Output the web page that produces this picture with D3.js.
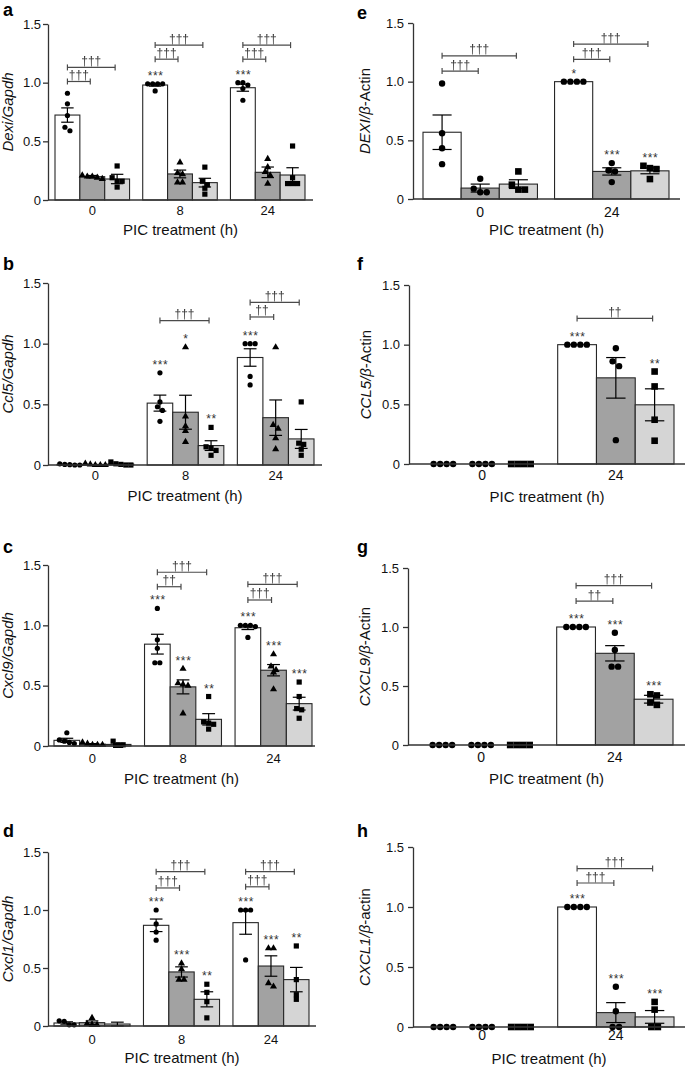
<!DOCTYPE html>
<html><head><meta charset="utf-8">
<script src="https://cdn.jsdelivr.net/npm/d3@7"></script>
<style>body{margin:0;background:#fff}svg{display:block}text.dag{filter:grayscale(1)}</style>
</head><body>
<svg id="chart" width="685" height="1067"></svg>
<script>
// ---------- DATA ----------
const groupsMouse = ["0", "8", "24"];
const groupsHuman = ["0", "24"];

// Panel a: Dexi/Gapdh
const meanA = [[0.724, 0.199, 0.179], [0.98, 0.222, 0.148], [0.957, 0.236, 0.213]];
const semA = [[0.061, 0.01, 0.04], [0.01, 0.033, 0.037], [0.03, 0.045, 0.062]];
const dotsA = [
  [[0.91, 0.82, 0.72, 0.62, 0.59], [0.21, 0.20, 0.20, 0.19, 0.18], [0.29, 0.19, 0.16, 0.16, 0.11]],
  [[0.99, 0.99, 0.99, 0.99, 0.93], [0.32, 0.23, 0.22, 0.15, 0.15], [0.28, 0.16, 0.13, 0.10, 0.05]],
  [[1.0, 1.0, 0.98, 0.95, 0.85], [0.35, 0.28, 0.24, 0.21, 0.14], [0.46, 0.19, 0.14, 0.14, 0.14]]
];
const bracketsA = [
  {g: 0, to: 1, v: 1.01, label: "†††"}, {g: 0, to: 2, v: 1.13, label: "†††"},
  {g: 1, to: 1, v: 1.20, label: "†††"}, {g: 1, to: 2, v: 1.32, label: "†††"},
  {g: 2, to: 1, v: 1.20, label: "†††"}, {g: 2, to: 2, v: 1.32, label: "†††"}
];
const starsA = [{g: 1, b: 0, label: "***"}, {g: 2, b: 0, label: "***"}];

// Panel b: Ccl5/Gapdh
const meanB = [[0.005, 0.005, 0.008], [0.51, 0.435, 0.16], [0.886, 0.39, 0.215]];
const semB = [[0.002, 0.002, 0.004], [0.066, 0.14, 0.04], [0.072, 0.146, 0.078]];
const dotsB = [
  [[0.01, 0.005, 0, 0, 0.003], [0.012, 0.005, 0, 0, 0], [0.025, 0.01, 0.005, 0, 0]],
  [[0.76, 0.52, 0.48, 0.45, 0.36], [0.97, 0.40, 0.32, 0.28, 0.19], [0.31, 0.15, 0.14, 0.12, 0.08]],
  [[1.0, 1.0, 1.0, 0.73, 0.66], [0.97, 0.33, 0.30, 0.22, 0.13], [0.52, 0.18, 0.17, 0.13, 0.08]]
];
const bracketsB = [
  {g: 1, to: 2, v: 1.19, label: "†††"},
  {g: 2, to: 1, v: 1.22, label: "††"}, {g: 2, to: 2, v: 1.34, label: "†††"}
];
const starsB = [{g: 1, b: 0, label: "***"}, {g: 1, b: 1, label: "*"}, {g: 1, b: 2, label: "**"}, {g: 2, b: 0, label: "***"}];

// Panel c: Cxcl9/Gapdh
const meanC = [[0.047, 0.015, 0.013], [0.844, 0.49, 0.221], [0.98, 0.628, 0.351]];
const semC = [[0.017, 0.005, 0.004], [0.082, 0.058, 0.047], [0.015, 0.047, 0.053]];
const dotsC = [
  [[0.11, 0.05, 0.04, 0.03, 0.02], [0.03, 0.02, 0.01, 0.01, 0.01], [0.04, 0.01, 0.01, 0.005, 0.005]],
  [[1.14, 0.88, 0.81, 0.69, 0.69], [0.64, 0.52, 0.51, 0.50, 0.27], [0.41, 0.20, 0.19, 0.18, 0.14]],
  [[1.0, 1.0, 1.0, 0.99, 0.90], [0.76, 0.66, 0.63, 0.61, 0.47], [0.53, 0.41, 0.31, 0.30, 0.23]]
];
const bracketsC = [
  {g: 1, to: 1, v: 1.32, label: "††"}, {g: 1, to: 2, v: 1.44, label: "†††"},
  {g: 2, to: 1, v: 1.21, label: "†††"}, {g: 2, to: 2, v: 1.34, label: "†††"}
];
const starsC = [
  {g: 1, b: 0, label: "***"}, {g: 1, b: 1, label: "***"}, {g: 1, b: 2, label: "**"},
  {g: 2, b: 0, label: "***"}, {g: 2, b: 1, label: "***"}, {g: 2, b: 2, label: "***"}
];

// Panel d: Cxcl1/Gapdh
const meanD = [[0.026, 0.029, 0.017], [0.868, 0.466, 0.23], [0.891, 0.517, 0.40]];
const semD = [[0.01, 0.015, 0.016], [0.054, 0.044, 0.065], [0.10, 0.088, 0.105]];
const dotsD = [
  [[0.045, 0.04, 0.01, 0.01], [0.07, 0.02, 0.01, 0.01], []],
  [[1.0, 0.88, 0.81, 0.74], [0.54, 0.49, 0.40, 0.40], [0.36, 0.29, 0.21, 0.07]],
  [[1.0, 1.0, 1.0, 0.57], [0.67, 0.67, 0.37, 0.34], [0.69, 0.40, 0.27, 0.23]]
];
const bracketsD = [
  {g: 1, to: 1, v: 1.19, label: "†††"}, {g: 1, to: 2, v: 1.33, label: "†††"},
  {g: 2, to: 1, v: 1.20, label: "†††"}, {g: 2, to: 2, v: 1.33, label: "†††"}
];
const starsD = [
  {g: 1, b: 0, label: "***"}, {g: 1, b: 1, label: "***"}, {g: 1, b: 2, label: "**"},
  {g: 2, b: 0, label: "***"}, {g: 2, b: 1, label: "***"}, {g: 2, b: 2, label: "**"}
];

// Panel e: DEXI/β-Actin
const meanE = [[0.569, 0.093, 0.127], [1.0, 0.235, 0.24]];
const semE = [[0.147, 0.034, 0.037], [0, 0.031, 0.025]];
const dotsE = [
  [[0.985, 0.56, 0.433, 0.297], [0.173, 0.088, 0.057, 0.057], [0.235, 0.122, 0.08, 0.08]],
  [[1, 1, 1, 1], [0.306, 0.243, 0.235, 0.144], [0.283, 0.263, 0.255, 0.17]]
];
const bracketsE = [
  {g: 0, to: 1, v: 1.09, label: "†††"}, {g: 0, to: 2, v: 1.22, label: "†††"},
  {g: 1, to: 1, v: 1.19, label: "†††"}, {g: 1, to: 2, v: 1.32, label: "†††"}
];
const starsE = [{g: 1, b: 0, label: "*"}, {g: 1, b: 1, label: "***"}, {g: 1, b: 2, label: "***"}];

// Panel f: CCL5/β-Actin
const meanF = [[0, 0, 0], [1.0, 0.722, 0.496]];
const semF = [[0, 0, 0], [0, 0.17, 0.134]];
const dotsF = [
  [[0, 0, 0, 0], [0, 0, 0, 0], [0, 0, 0, 0]],
  [[1, 1, 1, 1], [0.97, 0.86, 0.82, 0.20], [0.775, 0.65, 0.371, 0.195]]
];
const bracketsF = [{g: 1, to: 2, v: 1.22, label: "††"}];
const starsF = [{g: 1, b: 0, label: "***"}, {g: 1, b: 2, label: "**"}];

// Panel g: CXCL9/β-Actin
const meanG = [[0, 0, 0], [1.0, 0.777, 0.388]];
const semG = [[0, 0, 0], [0, 0.065, 0.033]];
const dotsG = [
  [[0, 0, 0, 0], [0, 0, 0, 0], [0, 0, 0, 0]],
  [[1, 1, 1, 1], [0.951, 0.805, 0.664, 0.664], [0.43, 0.42, 0.36, 0.34]]
];
const bracketsG = [{g: 1, to: 1, v: 1.22, label: "††"}, {g: 1, to: 2, v: 1.35, label: "†††"}];
const starsG = [{g: 1, b: 0, label: "***"}, {g: 1, b: 1, label: "***"}, {g: 1, b: 2, label: "***"}];

// Panel h: CXCL1/β-actin
const meanH = [[0, 0, 0], [1.0, 0.12, 0.084]];
const semH = [[0, 0, 0], [0, 0.083, 0.053]];
const dotsH = [
  [[0, 0, 0, 0], [0, 0, 0, 0], [0, 0, 0, 0]],
  [[1, 1, 1, 1], [0.335, 0.131, 0, 0], [0.209, 0.145, 0, 0]]
];
const bracketsH = [{g: 1, to: 1, v: 1.20, label: "†††"}, {g: 1, to: 2, v: 1.32, label: "†††"}];
const starsH = [{g: 1, b: 0, label: "***"}, {g: 1, b: 1, label: "***"}, {g: 1, b: 2, label: "***"}];

const yTicks = [0, 0.5, 1.0, 1.5];
const xTitle = "PIC treatment (h)";

// ---------- LAYOUT ----------
const FONT = "'Liberation Sans', Arial, Helvetica, sans-serif";
const fills = ["#ffffff", "#a2a2a2", "#d5d5d5"];

const panels = [
  {id: "a", groups: groupsMouse, mean: meanA, sem: semA, dots: dotsA, brackets: bracketsA, stars: starsA,
   title: [["Dexi/Gapdh", true]], L: {lx: 3, ly: 16, ax: [48, 313], band: [55, 305], y: [200, 24], ytx: 13, tickDy: 15, titleDy: 35, right: false}},
  {id: "b", groups: groupsMouse, mean: meanB, sem: semB, dots: dotsB, brackets: bracketsB, stars: starsB,
   title: [["Ccl5/Gapdh", true]], L: {lx: 3, ly: 270, ax: [48, 322], band: [57, 314], y: [465, 283], ytx: 13, tickDy: 15, titleDy: 35.5, right: false}},
  {id: "c", groups: groupsMouse, mean: meanC, sem: semC, dots: dotsC, brackets: bracketsC, stars: starsC,
   title: [["Cxcl9/Gapdh", true]], L: {lx: 3, ly: 553, ax: [48, 315], band: [54, 312], y: [746, 565], ytx: 13, tickDy: 17, titleDy: 37.5, right: false}},
  {id: "d", groups: groupsMouse, mean: meanD, sem: semD, dots: dotsD, brackets: bracketsD, stars: starsD,
   title: [["Cxcl1/Gapdh", true]], L: {lx: 3, ly: 837, ax: [48, 316], band: [54, 309], y: [1026, 852], ytx: 13, tickDy: 18, titleDy: 37, right: false}},
  {id: "e", groups: groupsHuman, mean: meanE, sem: semE, dots: dotsE, brackets: bracketsE, stars: starsE,
   title: [["DEXI/β", true], ["-Actin", false]], L: {lx: 357, ly: 19, ax: [413, 680], band: [423, 669], y: [199, 23], ytx: 370, tickDy: 17.5, titleDy: 36, right: true}},
  {id: "f", groups: groupsHuman, mean: meanF, sem: semF, dots: dotsF, brackets: bracketsF, stars: starsF,
   title: [["CCL5/β", true], ["-Actin", false]], L: {lx: 357, ly: 270, ax: [409, 685], band: [424, 674], y: [464, 285], ytx: 371, tickDy: 16, titleDy: 38, right: true}},
  {id: "g", groups: groupsHuman, mean: meanG, sem: semG, dots: dotsG, brackets: bracketsG, stars: starsG,
   title: [["CXCL9/β", true], ["-Actin", false]], L: {lx: 357, ly: 553, ax: [408, 685], band: [423, 673], y: [745, 568], ytx: 370, tickDy: 16.5, titleDy: 38.5, right: true}},
  {id: "h", groups: groupsHuman, mean: meanH, sem: semH, dots: dotsH, brackets: bracketsH, stars: starsH,
   title: [["CXCL1/β", true], ["-actin", false]], L: {lx: 357, ly: 837, ax: [413, 685], band: [424, 674], y: [1027, 847], ytx: 370, tickDy: 13, titleDy: 36.5, right: true}}
];

const svg = d3.select("#chart").style("font-family", FONT);

function swarm(vals, y, thr, sp) {
  const sorted = vals.map(v => ({v})).sort((a, b) => b.v - a.v);
  const clusters = [];
  sorted.forEach(d => {
    const last = clusters[clusters.length - 1];
    if (last && Math.abs(y(last[0].v) - y(d.v)) < thr) last.push(d); else clusters.push([d]);
  });
  const out = [];
  clusters.forEach(c => c.forEach((d, i) => out.push({v: d.v, dx: (i - (c.length - 1) / 2) * sp})));
  return out;
}

panels.forEach(p => {
  const L = p.L;
  const g = svg.append("g");
  const y = d3.scaleLinear().domain([0, 1.5]).range(L.y);
  const x0 = d3.scaleBand().domain(p.groups).range(L.band)
    .paddingInner(p.groups.length === 3 ? 0.15 : 0.13).paddingOuter(0);
  const x1 = d3.scaleBand().domain([0, 1, 2]).range([0, x0.bandwidth()]);
  const bw = x1.bandwidth();
  const shapes = L.right ? ["circle", "circle", "square"] : ["circle", "triangle", "square"];
  const r = L.right ? 3.2 : 2.6;
  const sp = L.right ? 6.5 : 5;
  const sq = L.right ? 6.6 : 5.2;
  const triSize = L.right ? 34 : 22;
  const cx = (gi, bi) => x0(p.groups[gi]) + x1(bi) + bw / 2;

  // bars
  p.groups.forEach((gn, gi) => {
    [0, 1, 2].forEach(bi => {
      const m = p.mean[gi][bi];
      g.append("rect")
        .attr("x", x0(gn) + x1(bi)).attr("y", y(m))
        .attr("width", bw).attr("height", y(0) - y(m))
        .attr("fill", fills[bi]).attr("stroke", "#262626").attr("stroke-width", 1.1);
    });
  });

  // dots
  p.groups.forEach((gn, gi) => {
    [0, 1, 2].forEach(bi => {
      const pts = swarm(p.dots[gi][bi], y, 2 * r * 0.8, sp);
      const c = cx(gi, bi);
      pts.forEach(d => {
        const px = c + d.dx, py = y(d.v);
        if (shapes[bi] === "circle") {
          g.append("circle").attr("cx", px).attr("cy", py).attr("r", r).attr("fill", "#000");
        } else if (shapes[bi] === "square") {
          g.append("rect").attr("x", px - sq / 2).attr("y", py - sq / 2).attr("width", sq).attr("height", sq).attr("fill", "#000");
        } else {
          g.append("path").attr("d", d3.symbol(d3.symbolTriangle, triSize)())
            .attr("transform", `translate(${px},${py})`).attr("fill", "#000");
        }
      });
    });
  });

  // error bars
  p.groups.forEach((gn, gi) => {
    [0, 1, 2].forEach(bi => {
      const m = p.mean[gi][bi], s = p.sem[gi][bi];
      if (s <= 0.004) return;
      const c = cx(gi, bi), cw = bw * 0.25;
      const lo = Math.max(0, m - s), hi = m + s;
      g.append("line").attr("x1", c).attr("x2", c).attr("y1", y(lo)).attr("y2", y(hi))
        .attr("stroke", "#000").attr("stroke-width", 1.2);
      [lo, hi].forEach(v => g.append("line").attr("x1", c - cw).attr("x2", c + cw)
        .attr("y1", y(v)).attr("y2", y(v)).attr("stroke", "#000").attr("stroke-width", 1.2));
    });
  });

  // stars
  p.stars.forEach(st => {
    const m = p.mean[st.g][st.b], s = p.sem[st.g][st.b];
    const top = Math.max(m + s, d3.max(p.dots[st.g][st.b]) || 0);
    g.append("text").attr("x", cx(st.g, st.b) + 0.5).attr("y", y(top) - 4)
      .attr("text-anchor", "middle").attr("font-size", 12).attr("letter-spacing", 0.6)
      .attr("fill", "#333").text(st.label);
  });

  // brackets
  p.brackets.forEach(br => {
    const xa = cx(br.g, 0), xb = cx(br.g, br.to) - 2, yy = y(br.v);
    g.append("line").attr("x1", xa).attr("x2", xb).attr("y1", yy).attr("y2", yy)
      .attr("stroke", "#4a4a4a").attr("stroke-width", 1.2);
    [xa, xb].forEach(xx => g.append("line").attr("x1", xx).attr("x2", xx)
      .attr("y1", yy - 3).attr("y2", yy + 3).attr("stroke", "#4a4a4a").attr("stroke-width", 1.2));
    g.append("text").attr("class", "dag")
      .attr("x", (xa + xb) / 2).attr("y", yy - 2.5)
      .attr("text-anchor", "middle").attr("font-size", 12).attr("fill", "#3a3a3a")
      .text(br.label);
  });

  // y axis
  const yAxis = d3.axisLeft(y).tickValues(yTicks).tickSize(5).tickSizeOuter(0)
    .tickPadding(L.right ? 4 : 2)
    .tickFormat(d => d === 0 ? "0" : d3.format(".1f")(d));
  const ya = g.append("g").attr("transform", `translate(${L.ax[0]},0)`).call(yAxis);
  ya.select(".domain").attr("stroke", "#333").attr("stroke-width", 1.3);
  ya.selectAll(".tick line").attr("stroke", "#333").attr("stroke-width", 1.3);
  ya.selectAll(".tick text").attr("font-size", 13).attr("font-family", FONT).attr("fill", "#111");

  // x axis line
  g.append("line").attr("x1", L.ax[0]).attr("x2", L.ax[1]).attr("y1", y(0)).attr("y2", y(0))
    .attr("stroke", "#333").attr("stroke-width", 1.3);
  const xAxis = d3.axisBottom(x0).tickSize(0).tickPadding(0);
  const xa = g.append("g").attr("transform", `translate(0,${y(0)})`).call(xAxis);
  xa.select(".domain").remove();
  xa.selectAll(".tick text").attr("font-size", L.right ? 14 : 13).attr("font-family", FONT)
    .attr("fill", "#111").attr("dy", null).attr("y", L.tickDy);

  // x title
  g.append("text").attr("x", (L.ax[0] + L.ax[1]) / 2).attr("y", y(0) + L.titleDy)
    .attr("text-anchor", "middle").attr("font-size", 15).attr("fill", "#111").text(xTitle);

  // y title
  const yt = g.append("text")
    .attr("transform", `translate(${L.ytx},${(L.y[0] + L.y[1]) / 2}) rotate(-90)`)
    .attr("text-anchor", "middle").attr("font-size", 15).attr("fill", "#111");
  p.title.forEach(([t, it]) => yt.append("tspan").attr("font-style", it ? "italic" : "normal").text(t));

  // panel label
  g.append("text").attr("x", L.lx).attr("y", L.ly).attr("font-size", 18).attr("font-weight", "bold")
    .attr("fill", "#000").text(p.id);
});
</script>
</body></html>
